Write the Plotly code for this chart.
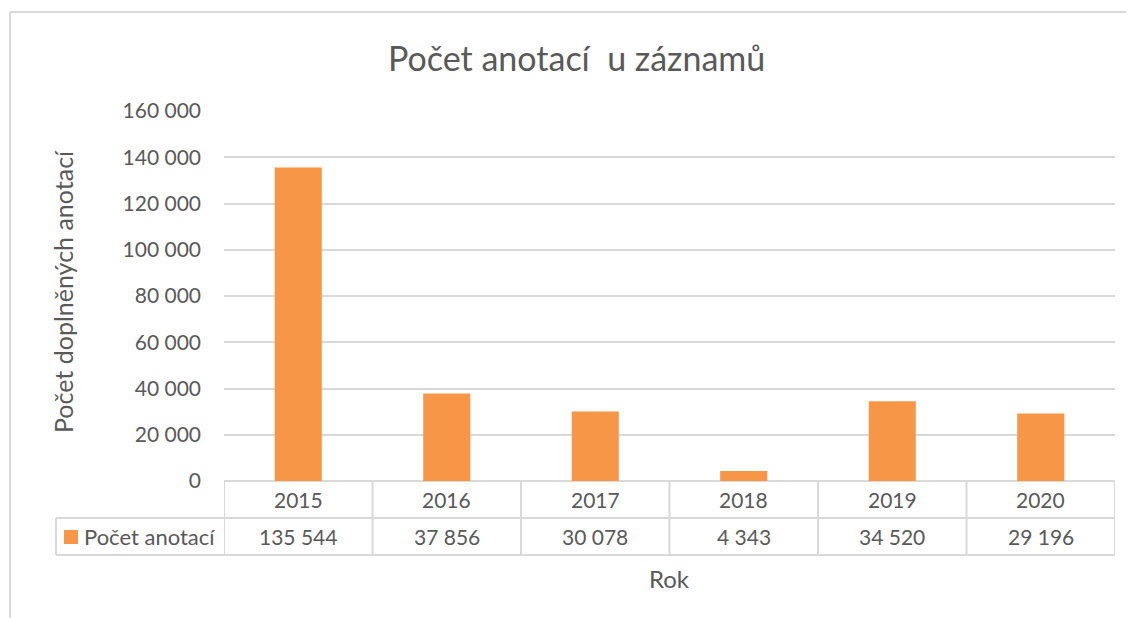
import plotly.graph_objects as go

years = ["2015", "2016", "2017", "2018", "2019", "2020"]
values = [135544, 37856, 30078, 4343, 34520, 29196]
series_name = "Počet anotací"
title = "Počet anotací  u záznamů"
y_title = "Počet doplněných anotací"
x_title = "Rok"
y_ticks = [0, 20000, 40000, 60000, 80000, 100000, 120000, 140000, 160000]

# page has an 8px body margin; the figure starts at (8, 8) in the window
OFF = 8
W, H = 1134, 618
L, R, T, B = 224, 1115, 111, 481
PW, PH = R - L, B - T
BAR = "#F79646"
TXT = "#595959"
GRID = "#D9D9D9"
FONT = "Lato"


def px(x):
    return (x - L) / PW


def py(y):
    return (B - y) / PH


def fmt(v):
    return f"{v:,}".replace(",", " ")


xs = list(range(len(years)))
fig = go.Figure()
fig.add_trace(go.Bar(x=xs, y=values, width=0.317, marker=dict(color=BAR, line=dict(width=0)),
                     name=series_name, showlegend=False, hoverinfo="y"))

shapes = []
line = dict(color=GRID, width=2)
row1, row2, row3 = py(481), py(518), py(555)
shapes.append(dict(type="line", xref="paper", yref="paper", x0=px(56), x1=1, y0=row2, y1=row2, line=line))
shapes.append(dict(type="line", xref="paper", yref="paper", x0=px(56), x1=1, y0=row3, y1=row3, line=line))
for i in range(len(years) + 1):
    shapes.append(dict(type="line", xref="x", yref="paper", x0=i - 0.5, x1=i - 0.5, y0=row1, y1=row3, line=line))
shapes.append(dict(type="line", xref="paper", yref="paper", x0=px(56), x1=px(56), y0=row2, y1=row3, line=line))
shapes.append(dict(type="rect", xref="paper", yref="paper", x0=px(64), x1=px(78), y0=py(544), y1=py(530),
                   fillcolor=BAR, line=dict(width=0)))
shapes.append(dict(type="line", xref="paper", yref="paper", x0=px(10), x1=px(1134), y0=py(12), y1=py(12), line=line))
shapes.append(dict(type="line", xref="paper", yref="paper", x0=px(10), x1=px(10), y0=py(12), y1=py(618), line=line))

ann = []
for i, (yr, v) in enumerate(zip(years, values)):
    ann.append(dict(x=i, y=(row1 + row2) / 2, xref="x", yref="paper", text=yr, showarrow=False,
                    font=dict(size=21, color=TXT, family=FONT), xanchor="center", yanchor="middle"))
    ann.append(dict(x=i, y=(row2 + row3) / 2, xref="x", yref="paper", text=fmt(v), showarrow=False,
                    font=dict(size=21, color=TXT, family=FONT), xanchor="center", yanchor="middle"))
ann.append(dict(x=px(82), y=(row2 + row3) / 2, xref="paper", yref="paper", text=series_name, showarrow=False,
                font=dict(size=22, color=TXT, family=FONT), xanchor="left", yanchor="middle"))
ann.append(dict(x=px(576), y=py(58), xref="paper", yref="paper", text=title, showarrow=False,
                font=dict(size=34, color=TXT, family=FONT), xanchor="center", yanchor="middle"))
ann.append(dict(x=px(669), y=py(578), xref="paper", yref="paper", text=x_title, showarrow=False,
                font=dict(size=24, color=TXT, family=FONT), xanchor="center", yanchor="middle"))
ann.append(dict(x=px(63), y=py(292), xref="paper", yref="paper", text=y_title, showarrow=False, textangle=-90,
                font=dict(size=25, color=TXT, family=FONT), xanchor="center", yanchor="middle"))

fig.update_layout(
    width=W - OFF, height=H - OFF,
    margin=dict(l=L - OFF, r=W - R, t=T - OFF, b=H - B, pad=0),
    paper_bgcolor="white", plot_bgcolor="white",
    separators=". ",
    font=dict(family=FONT, color=TXT, size=21),
    xaxis=dict(range=[-0.5, len(years) - 0.5], showticklabels=False, showgrid=False, zeroline=False,
               showline=False, ticks="", fixedrange=True),
    yaxis=dict(range=[0, 160000], tickvals=y_ticks, tickformat=",d", showgrid=True, gridcolor=GRID, gridwidth=2,
               zeroline=True, zerolinecolor=GRID, zerolinewidth=2, showline=False, ticks="",
               ticklabelstandoff=22, tickfont=dict(size=21, color=TXT, family=FONT)),
    shapes=shapes, annotations=ann, showlegend=False,
)

fig.write_html("out.html")
